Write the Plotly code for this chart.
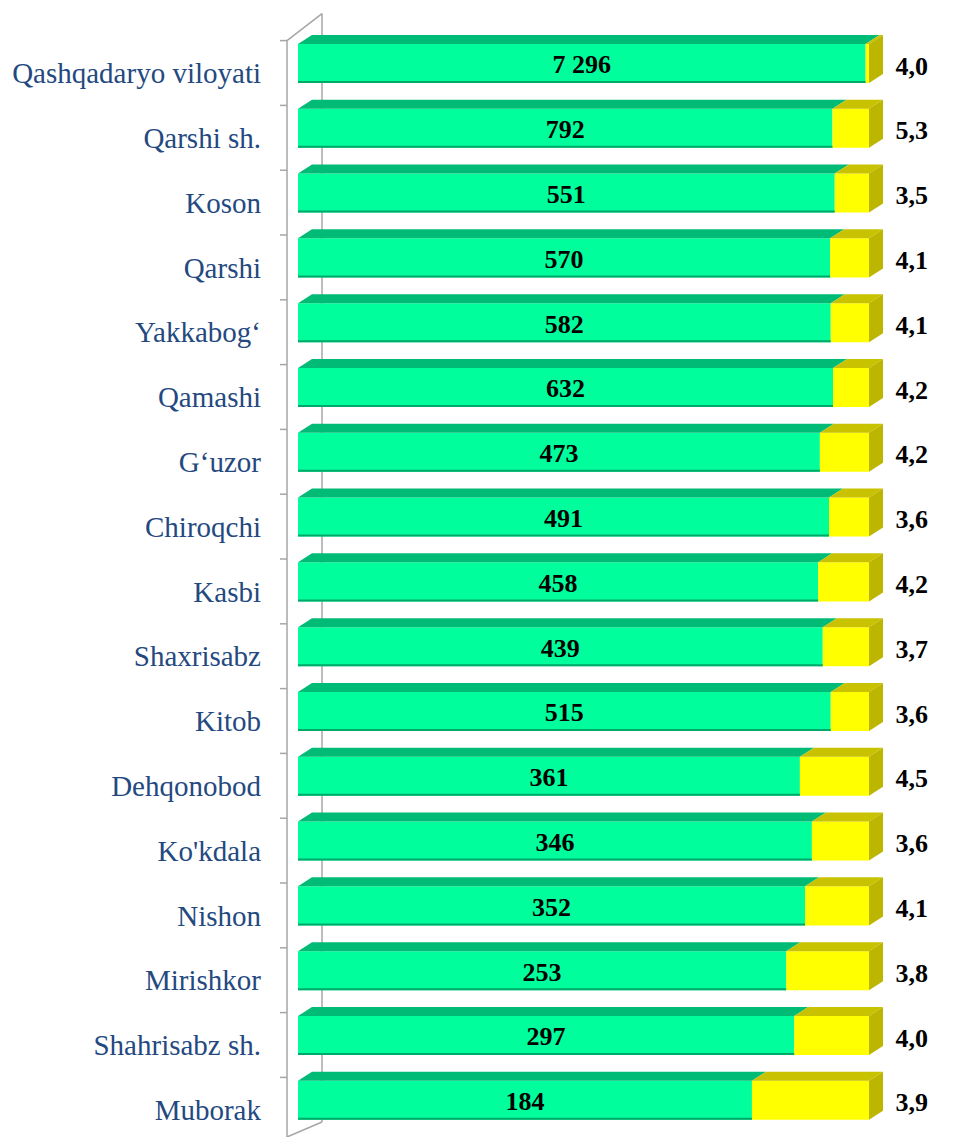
import plotly.graph_objects as go

# ---------------- data ----------------
regions = ["Qashqadaryo viloyati", "Qarshi sh.", "Koson", "Qarshi", "Yakkabog‘",
           "Qamashi", "G‘uzor", "Chiroqchi", "Kasbi", "Shaxrisabz", "Kitob",
           "Dehqonobod", "Ko'kdala", "Nishon", "Mirishkor", "Shahrisabz sh.", "Muborak"]
counts = [7296, 792, 551, 570, 582, 632, 473, 491, 458, 439, 515,
          361, 346, 352, 253, 297, 184]
rates = [4.0, 5.3, 3.5, 4.1, 4.1, 4.2, 4.2, 3.6, 4.2, 3.7, 3.6,
         4.5, 3.6, 4.1, 3.8, 4.0, 3.9]
# share of the bar length taken by the yellow segment (%)
yellow_share = [0.6, 6.4, 6.0, 6.8, 6.7, 6.3, 8.6, 7.0, 8.9, 8.1, 6.7,
                12.1, 10.0, 11.2, 14.5, 13.1, 20.5]

# ---------------- styling ----------------
GREEN = "#00FF9C"
GREEN_TOP = "#00BB76"
GREEN_EDGE = "#00A96A"
YELLOW = "#FFFF00"
YELLOW_TOP = "#C9C200"
YELLOW_SIDE = "#BDB600"
LABEL_COLOR = "#24497F"
FONT = "Liberation Serif"

W, H = 978, 1137
ML = 280
PX_PER_UNIT_X = 571 / 100.0
X0 = -(298 - ML) / PX_PER_UNIT_X
X1 = X0 + (W - ML) / PX_PER_UNIT_X
ROW_PX = 64.8
Y_TOP = -73 / ROW_PX
Y_BOT = (H - 73) / ROW_PX

BAR_OFF = -0.448
BAR_W = 0.602
DX = 14 / PX_PER_UNIT_X
DY = 9 / ROW_PX

n = len(regions)
idx = list(range(n))
green_share = [100 - s for s in yellow_share]
count_txt = [f"{c:,}".replace(",", " ") for c in counts]
rate_txt = [f"{r:.1f}".replace(".", ",") for r in rates]
front_mid = [i + BAR_OFF + BAR_W / 2 for i in idx]

fig = go.Figure()
fig.add_trace(go.Bar(
    y=idx, x=green_share, base=0, orientation="h",
    offset=BAR_OFF, width=BAR_W, marker=dict(color=GREEN, line=dict(width=0)),
    hoverinfo="skip", showlegend=False))
fig.add_trace(go.Bar(
    y=idx, x=yellow_share, base=green_share, orientation="h",
    offset=BAR_OFF, width=BAR_W, marker=dict(color=YELLOW, line=dict(width=0)),
    hoverinfo="skip", showlegend=False))
# count labels, centred on the green part
fig.add_trace(go.Scatter(
    y=[m + 3.5 / ROW_PX for m in front_mid],
    x=[g / 2 for g in green_share], mode="text", text=count_txt,
    textposition="middle center",
    textfont=dict(family=FONT, size=26, color="black", weight="bold"),
    hoverinfo="skip", showlegend=False, cliponaxis=False))
# rate labels to the right of each bar
fig.add_trace(go.Scatter(
    y=[m + 0.07 for m in front_mid],
    x=[100 + DX + 2.2] * n, mode="text", text=rate_txt,
    textposition="middle right",
    textfont=dict(family=FONT, size=26, color="black", weight="bold"),
    hoverinfo="skip", showlegend=False, cliponaxis=False))

shapes = []
# wall
wall_x = X0 + 7 / PX_PER_UNIT_X
back_x = X0 + 42 / PX_PER_UNIT_X
top_b = -0.5
WALL = dict(color="#A6A6A6", width=1.5)
shapes.append(dict(type="line", xref="x", yref="y", x0=back_x, x1=back_x,
                   y0=top_b - 27 / ROW_PX, y1=Y_BOT - 15 / ROW_PX,
                   line=WALL, layer="below"))
shapes.append(dict(type="line", xref="x", yref="y", x0=wall_x, x1=back_x,
                   y0=top_b, y1=top_b - 27 / ROW_PX, line=WALL))
shapes.append(dict(type="line", xref="x", yref="y", x0=wall_x, x1=back_x,
                   y0=Y_BOT, y1=Y_BOT - 15 / ROW_PX, line=WALL))
shapes.append(dict(type="line", xref="x", yref="y", x0=wall_x, x1=wall_x,
                   y0=top_b, y1=Y_BOT, line=WALL))
for k in range(n):
    b = k - 0.5
    shapes.append(dict(type="line", xref="x", yref="y", x0=X0, x1=wall_x,
                       y0=b, y1=b, line=WALL))

# 3D faces of each bar
for i in idx:
    top = i + BAR_OFF
    bot = top + BAR_W
    g = green_share[i]
    shapes.append(dict(type="path", xref="x", yref="y",
                       path=f"M 0,{top} L {DX},{top - DY} L {g + DX},{top - DY} L {g},{top} Z",
                       fillcolor=GREEN_TOP, line=dict(width=0)))
    shapes.append(dict(type="path", xref="x", yref="y",
                       path=f"M {g},{top} L {g + DX},{top - DY} L {100 + DX},{top - DY} L 100,{top} Z",
                       fillcolor=YELLOW_TOP, line=dict(width=0)))
    shapes.append(dict(type="path", xref="x", yref="y",
                       path=f"M 100,{top} L {100 + DX},{top - DY} L {100 + DX},{bot - DY} L 100,{bot} Z",
                       fillcolor=YELLOW_SIDE, line=dict(width=0)))
    shapes.append(dict(type="line", xref="x", yref="y", x0=0, x1=g,
                       y0=bot - 1 / ROW_PX, y1=bot - 1 / ROW_PX,
                       line=dict(color=GREEN_EDGE, width=2)))

fig.update_layout(
    width=W, height=H,
    margin=dict(l=ML, r=0, t=0, b=0),
    paper_bgcolor="white", plot_bgcolor="white",
    barmode="overlay",
    shapes=shapes,
    xaxis=dict(range=[X0, X1], visible=False, fixedrange=True),
    yaxis=dict(range=[Y_BOT, Y_TOP], tickmode="array", tickvals=idx, ticktext=regions,
               showgrid=False, zeroline=False, showline=False, ticks="",
               ticklabelstandoff=18, fixedrange=True,
               tickfont=dict(family=FONT, size=29, color=LABEL_COLOR)),
)

fig.write_html("out.html", config={"displayModeBar": False},
               post_script="document.body.style.margin='0';document.body.style.overflow='hidden';")
